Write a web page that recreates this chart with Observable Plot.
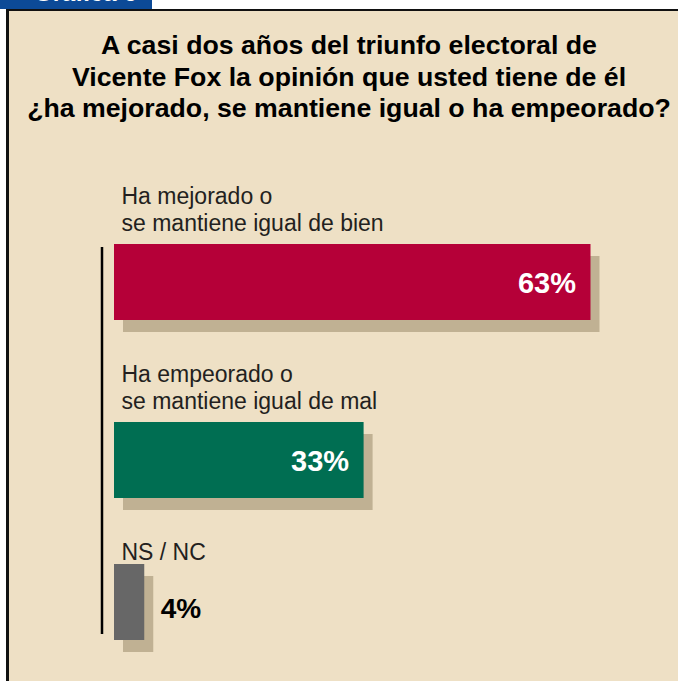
<!DOCTYPE html>
<html><head><meta charset="utf-8">
<script src="https://cdn.jsdelivr.net/npm/d3@7"></script>
<script src="https://cdn.jsdelivr.net/npm/@observablehq/plot@0.6"></script>
<style>
html,body{margin:0;padding:0;background:#fff;}
#page{position:relative;width:678px;height:681px;overflow:hidden;background:#fff;font-family:"Liberation Sans",Arial,sans-serif;}
#tab{position:absolute;left:0;top:0;width:152px;height:9px;background:#0c4a97;overflow:hidden;}
#tab span{position:absolute;left:34px;top:-19px;font-size:24px;line-height:24px;font-weight:bold;color:#fff;white-space:nowrap;}
#frame{position:absolute;left:6px;top:9px;width:700px;height:700px;border-top:2px solid #111;border-left:3px solid #111;background:#eee0c5;}
#title{position:absolute;left:0;width:698px;top:30px;text-align:center;font-weight:bold;font-size:26.7px;line-height:31.5px;color:#000;}
#chart{position:absolute;left:0;top:160px;}
</style>
</head><body>
<div id="page">
  <div id="tab"><span>Gráfica 6</span></div>
  <div id="frame"></div>
  <div id="title">A casi dos años del triunfo electoral de<br>Vicente Fox la opinión que usted tiene de él<br>¿ha mejorado, se mantiene igual o ha empeorado?</div>
  <div id="chart"></div>
</div>
<script>
const categories = ["mejorado", "empeorado", "nsnc"];
const labels = ["Ha mejorado o\nse mantiene igual de bien", "Ha empeorado o\nse mantiene igual de mal", "NS / NC"];
const values = [63, 33, 4];
const valueLabels = ["63%", "33%", "4%"];
const colors = ["#b50038", "#006e52", "#676767"];

const data = categories.map((c, i) => ({cat: c, label: labels[i], value: values[i], text: valueLabels[i], color: colors[i], lines: labels[i].split("\n").length}));
const two = data.filter(d => d.lines === 2);
const one = data.filter(d => d.lines === 1);
const shadow = "#c0b193";

const chart = Plot.plot({
  width: 678,
  height: 521,
  marginTop: 87,
  marginBottom: 47,
  marginLeft: 0,
  marginRight: 0,
  style: {background: "transparent", fontFamily: "'Liberation Sans', Arial, sans-serif"},
  x: {domain: [0, 63], range: [114, 590.5], axis: null},
  y: {domain: categories, range: [18, 552], padding: 0, axis: null},
  color: {type: "identity"},
  marks: [
    Plot.ruleX([0], {dx: -12.5, stroke: "#000", strokeWidth: 2.5}),
    Plot.barX(two, {x: "value", y: "cat", fill: shadow, insetTop: 66, insetBottom: 36, dx: 9, dy: 12}),
    Plot.barX(one, {x: "value", y: "cat", fill: shadow, insetTop: 30, insetBottom: 72, dx: 9, dy: 12}),
    Plot.barX(two, {x: "value", y: "cat", fill: "color", insetTop: 66, insetBottom: 36}),
    Plot.barX(one, {x: "value", y: "cat", fill: "color", insetTop: 30, insetBottom: 72}),
    Plot.text(data, {x: 0, y: "cat", text: "label", textAnchor: "start", lineAnchor: "top", dx: 7, dy: -83, fontSize: 23, lineHeight: 1.17, fill: "#231f20"}),
    Plot.text(data.filter(d => d.value >= 10), {x: "value", y: "cat", text: "text", textAnchor: "end", dx: -15, dy: 16, fill: "#fff", fontSize: 29, fontWeight: "bold"}),
    Plot.text(data.filter(d => d.value < 10), {x: "value", y: "cat", text: "text", textAnchor: "start", dx: 16, dy: -14.5, fill: "#000", fontSize: 28, fontWeight: "bold"})
  ]
});
document.getElementById("chart").appendChild(chart);
</script>
</body></html>
